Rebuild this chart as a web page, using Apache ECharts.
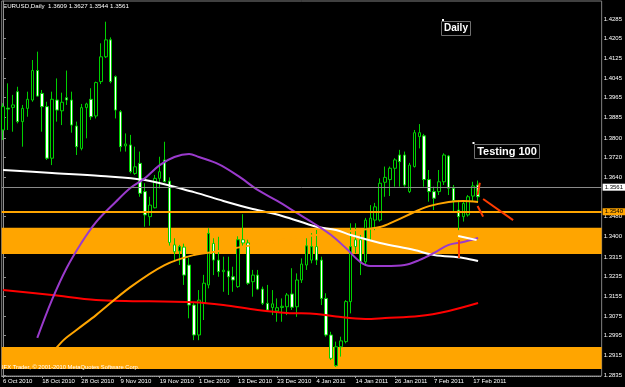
<!DOCTYPE html>
<html><head><meta charset="utf-8">
<script src="https://cdn.jsdelivr.net/npm/echarts@6/dist/echarts.min.js"></script>
<style>html,body{margin:0;padding:0;background:#000;}#c{width:625px;height:387px;}</style>
</head><body><div id="c"></div>
<script>
// ---- data ----
const dates = ['2010-10-06','2010-10-07','2010-10-08','2010-10-11','2010-10-12','2010-10-13','2010-10-14','2010-10-15','2010-10-18','2010-10-19','2010-10-20','2010-10-21','2010-10-22','2010-10-25','2010-10-26','2010-10-27','2010-10-28','2010-10-29','2010-11-01','2010-11-02','2010-11-03','2010-11-04','2010-11-05','2010-11-08','2010-11-09','2010-11-10','2010-11-11','2010-11-12','2010-11-15','2010-11-16','2010-11-17','2010-11-18','2010-11-19','2010-11-22','2010-11-23','2010-11-24','2010-11-25','2010-11-26','2010-11-29','2010-11-30','2010-12-01','2010-12-02','2010-12-03','2010-12-06','2010-12-07','2010-12-08','2010-12-09','2010-12-10','2010-12-13','2010-12-14','2010-12-15','2010-12-16','2010-12-17','2010-12-20','2010-12-21','2010-12-22','2010-12-23','2010-12-24','2010-12-27','2010-12-28','2010-12-29','2010-12-30','2010-12-31','2011-01-03','2011-01-04','2011-01-05','2011-01-06','2011-01-07','2011-01-10','2011-01-11','2011-01-12','2011-01-13','2011-01-14','2011-01-17','2011-01-18','2011-01-19','2011-01-20','2011-01-21','2011-01-24','2011-01-25','2011-01-26','2011-01-27','2011-01-28','2011-01-31','2011-02-01','2011-02-02','2011-02-03','2011-02-04','2011-02-07','2011-02-08','2011-02-09','2011-02-10','2011-02-11','2011-02-14','2011-02-15','2011-02-16','2011-02-17','2011-02-18'];
const open  = [1.3833,1.3922,1.3925,1.3989,1.3867,1.3921,1.3955,1.4075,1.3982,1.3928,1.3718,1.3955,1.3911,1.3964,1.3955,1.3849,1.3758,1.3924,1.3958,1.3890,1.4030,1.4131,1.4200,1.4050,1.3907,1.3768,1.3772,1.3656,1.3697,1.3582,1.3480,1.3516,1.3636,1.3711,1.3625,1.3365,1.3340,1.3356,1.3283,1.3120,1.2998,1.3127,1.3202,1.3371,1.3303,1.3256,1.3259,1.3235,1.3195,1.3386,1.3373,1.3215,1.3242,1.3185,1.3127,1.3110,1.3096,1.3110,1.3113,1.3165,1.3113,1.3222,1.3283,1.3303,1.3358,1.3303,1.3147,1.2998,1.2873,1.2950,1.2971,1.3134,1.3386,1.3386,1.3296,1.3433,1.3466,1.3466,1.3620,1.3631,1.3677,1.3731,1.3731,1.3582,1.3684,1.3806,1.3809,1.3631,1.3582,1.3582,1.3622,1.3727,1.3596,1.3507,1.3480,1.3487,1.3564,1.3609];
const high  = [1.3942,1.4023,1.3976,1.4009,1.3935,1.3989,1.4118,1.4152,1.3996,1.3948,1.3989,1.4043,1.3985,1.4075,1.3989,1.3867,1.3939,1.3944,1.4003,1.4030,1.4186,1.4274,1.4210,1.4055,1.3914,1.3819,1.3813,1.3765,1.3745,1.3616,1.3561,1.3650,1.3724,1.3785,1.3640,1.3392,1.3365,1.3370,1.3312,1.3130,1.3181,1.3243,1.3433,1.3392,1.3398,1.3317,1.3317,1.3276,1.3400,1.3490,1.3386,1.3263,1.3263,1.3195,1.3202,1.3181,1.3147,1.3147,1.3169,1.3270,1.3249,1.3310,1.3392,1.3413,1.3426,1.3317,1.3168,1.3011,1.2971,1.2991,1.3140,1.3453,1.3453,1.3405,1.3475,1.3527,1.3536,1.3636,1.3684,1.3684,1.3718,1.3752,1.3745,1.3699,1.3833,1.3857,1.3817,1.3670,1.3602,1.3670,1.3738,1.3731,1.3609,1.3548,1.3541,1.3568,1.3622,1.3627];
const low   = [1.3792,1.3833,1.3826,1.3860,1.3765,1.3887,1.3948,1.3969,1.3826,1.3711,1.3690,1.3867,1.3853,1.3935,1.3822,1.3731,1.3750,1.3799,1.3874,1.3880,1.4020,1.4126,1.4023,1.3880,1.3745,1.3745,1.3656,1.3650,1.3561,1.3439,1.3443,1.3514,1.3595,1.3620,1.3362,1.3296,1.3283,1.3202,1.3066,1.2977,1.2977,1.3059,1.3188,1.3242,1.3235,1.3174,1.3161,1.3174,1.3190,1.3362,1.3202,1.3154,1.3181,1.3120,1.3093,1.3079,1.3052,1.3052,1.3079,1.3100,1.3072,1.3210,1.3263,1.3290,1.3283,1.3120,1.2991,1.2896,1.2868,1.2910,1.2964,1.3086,1.3331,1.3242,1.3283,1.3385,1.3425,1.3460,1.3561,1.3564,1.3602,1.3602,1.3602,1.3576,1.3680,1.3758,1.3602,1.3541,1.3507,1.3568,1.3609,1.3568,1.3500,1.3425,1.3460,1.3480,1.3541,1.3544];
const close = [1.3928,1.3918,1.3935,1.3867,1.3921,1.3958,1.4075,1.3971,1.3928,1.3718,1.3958,1.3914,1.3946,1.3955,1.3853,1.3765,1.3924,1.3939,1.3887,1.4026,1.4131,1.4200,1.4030,1.3914,1.3765,1.3776,1.3663,1.3683,1.3575,1.3487,1.3527,1.3636,1.3663,1.3622,1.3375,1.3337,1.3358,1.3242,1.3120,1.2998,1.3140,1.3209,1.3412,1.3303,1.3256,1.3262,1.3235,1.3222,1.3386,1.3373,1.3209,1.3242,1.3185,1.3127,1.3100,1.3125,1.3109,1.3115,1.3161,1.3111,1.3222,1.3287,1.3361,1.3358,1.3303,1.3147,1.2998,1.2903,1.2950,1.2974,1.3134,1.3358,1.3358,1.3296,1.3466,1.3474,1.3520,1.3616,1.3640,1.3677,1.3711,1.3704,1.3609,1.3690,1.3822,1.3822,1.3631,1.3582,1.3555,1.3622,1.3731,1.3596,1.3545,1.3480,1.3534,1.3561,1.3605,1.3561];

// moving averages: [bar index, price]
const maWhite  = [[0,1.3670],[10,1.3658],[20,1.3646],[29,1.3629],[39,1.3580],[45,1.3544],[51,1.3511],[57,1.3483],[64,1.3439],[68,1.3426],[71,1.3405],[77,1.3373],[84,1.3344],[88,1.3324],[94,1.3312],[97,1.3299]];
const maPurple = [[7,1.2986],[10,1.3141],[13,1.3271],[16,1.3373],[19,1.3458],[23,1.3540],[26,1.3597],[29,1.3637],[32,1.3690],[35,1.3723],[38,1.3735],[40,1.3723],[44,1.3694],[48,1.3646],[52,1.3589],[56,1.3544],[60,1.3495],[64,1.3446],[67,1.3405],[70,1.3352],[73,1.3295],[75,1.3279],[78,1.3279],[82,1.3283],[85,1.3303],[88,1.3332],[91,1.3365],[94,1.3377],[97,1.3393]];
const maOrange = [[8,1.2872],[12,1.2970],[15,1.3018],[19,1.3079],[26,1.3193],[33,1.3283],[39,1.3324],[43,1.3336],[50,1.3361],[57,1.3385],[64,1.3405],[71,1.3422],[77,1.3438],[80,1.3462],[84,1.3499],[87,1.3523],[91,1.3540],[94,1.3544],[97,1.3540]];
const maRed    = [[0,1.3181],[10,1.3161],[19,1.3141],[39,1.3131],[45,1.3120],[52,1.3100],[58,1.3088],[64,1.3084],[68,1.3073],[74,1.3063],[78,1.3067],[85,1.3075],[91,1.3096],[97,1.3128]];

// zones and levels
const zoneUpper = [1.3435, 1.3328];
const zoneLower = [1.2949, 1.2860];
const levelLine = 1.3540;
const bidLine = 1.3561;
const levelTag = 1.3422;

// drawn annotations: pairs of [bar index, price]
const redLines = [
  [[97.37,1.3618],[96.90,1.3568]],
  [[96.90,1.3523],[98.04,1.3480]],
  [[98.04,1.3552],[104.16,1.3466]],
  [[93.03,1.3385],[93.03,1.3312]]
];
const whiteSeg = [[92.95,1.3401],[96.70,1.3385]];

// axes
const priceTicks = [1.4285,1.4205,1.4125,1.4045,1.3965,1.3885,1.3800,1.3720,1.3640,1.3480,1.3400,1.3315,1.3235,1.3155,1.3075,1.2995,1.2915,1.2835];
const dateTickIdx = [0,8,16,24,32,40,48,56,64,72,80,88,96];
const dateTickLabels = ['6 Oct 2010','18 Oct 2010','28 Oct 2010','9 Nov 2010','19 Nov 2010','1 Dec 2010','13 Dec 2010','23 Dec 2010','4 Jan 2011','14 Jan 2011','26 Jan 2011','7 Feb 2011','17 Feb 2011'];

const last = dates.length - 1;
const titleText = 'EURUSD,Daily  ' + [open[last], high[last], low[last], close[last]].map(v => v.toFixed(4)).join(' ');

const FONT = 'Liberation Sans';
const ORANGE = '#ffa500';
const chart = echarts.init(document.getElementById('c'), null, {renderer: 'canvas'});

const lineSeries = (name, data, color, z) => ({
  name, type: 'line', data, smooth: 0.35, symbol: 'none', z,
  lineStyle: {color, width: 2}, silent: true, animation: false
});

chart.setOption({
  backgroundColor: '#000000',
  animation: false,
  grid: {left: 1, right: 23, top: 1, bottom: 11, show: true, borderColor: '#808080', borderWidth: 1, backgroundColor: 'transparent'},
  xAxis: {
    type: 'value', min: -0.265, max: 122.24,
    axisLine: {show: true, onZero: false, lineStyle: {color: '#a0a0a0', type: 'dotted'}},
    axisTick: {show: true, customValues: dateTickIdx, length: 2, lineStyle: {color: '#a0a0a0'}},
    axisLabel: {customValues: dateTickIdx, formatter: v => dateTickLabels[dateTickIdx.indexOf(Math.round(v))] || '',
      color: '#ffffff', fontSize: 6, fontFamily: FONT, align: 'left', margin: 2},
    splitLine: {show: false}
  },
  yAxis: {
    type: 'value', position: 'right', min: 1.28310, max: 1.43583,
    axisLine: {show: true, lineStyle: {color: '#909090'}},
    axisTick: {show: true, customValues: priceTicks, length: 3, lineStyle: {color: '#909090'}},
    axisLabel: {customValues: priceTicks, formatter: v => v.toFixed(4), color: '#ffffff', fontSize: 6, fontFamily: FONT, margin: 2},
    splitLine: {show: false}
  },
  series: [
    {
      type: 'line', data: [], z: 0, silent: true,
      markArea: {silent: true, itemStyle: {color: ORANGE}, data: [
        [{yAxis: zoneUpper[0]}, {yAxis: zoneUpper[1]}],
        [{yAxis: zoneLower[0]}, {yAxis: zoneLower[1]}]
      ]}
    },
    {
      type: 'candlestick', z: 3, barWidth: 3, silent: true,
      data: dates.map((d, i) => [i, open[i], close[i], low[i], high[i]]),
      itemStyle: {color: '#000000', color0: '#ffffff', borderColor: '#00d000', borderColor0: '#00d000', borderWidth: 1}
    },
    lineSeries('red', maRed, '#ff0000', 4),
    lineSeries('orange', maOrange, ORANGE, 4),
    lineSeries('white', maWhite, '#ffffff', 4),
    lineSeries('purple', maPurple, '#9a3acc', 4),
    {
      type: 'line', data: [], z: 6, silent: true,
      markLine: {silent: true, symbol: 'none', animation: false, data: [
        {yAxis: bidLine, lineStyle: {color: '#8a8a8a', width: 1, type: 'solid'},
          label: {show: true, position: 'end', distance: 1, formatter: bidLine.toFixed(4), backgroundColor: '#ffffff', color: '#000', fontSize: 6, fontFamily: FONT, padding: [1, 2, 0, 2]}},
        {yAxis: levelLine, lineStyle: {color: ORANGE, width: 2, type: 'solid'},
          label: {show: true, position: 'end', distance: 1, formatter: levelLine.toFixed(4), backgroundColor: ORANGE, color: '#000', fontSize: 6, fontFamily: FONT, padding: [1, 2, 0, 2]}},
        {yAxis: levelTag, lineStyle: {color: ORANGE, width: 1, opacity: 0},
          label: {show: true, position: 'end', distance: 1, formatter: levelTag.toFixed(4), backgroundColor: ORANGE, color: '#000', fontSize: 6, fontFamily: FONT, padding: [1, 2, 0, 2]}},
        ...redLines.map(seg => [
          {coord: seg[0], lineStyle: {color: '#ff3c00', width: 2, type: 'solid'}, label: {show: false}},
          {coord: seg[1]}
        ]),
        [{coord: whiteSeg[0], lineStyle: {color: '#ffffff', width: 2, type: 'solid'}, label: {show: false}}, {coord: whiteSeg[1]}]
      ]}
    }
  ],
  graphic: [
    {type: 'text', left: 3, top: 3, style: {text: titleText, fill: '#ffffff', font: '6.2px ' + FONT}},
    {type: 'text', left: 2, top: 364, z: 10, style: {text: 'IFX Trader, © 2001-2010 MetaQuotes Software Corp.', fill: '#ffffff', font: '5.8px ' + FONT}},
    {type: 'rect', shape: {x: 441.5, y: 21.5, width: 29, height: 14}, style: {fill: '#000', stroke: '#707070', lineWidth: 1}, z: 10},
    {type: 'text', x: 456, y: 28.5, z: 11, style: {text: 'Daily', fill: '#ffffff', font: 'bold 10px ' + FONT, align: 'center', verticalAlign: 'middle'}},
    {type: 'rect', shape: {x: 442, y: 19, width: 2, height: 2}, style: {fill: '#ffffff'}, z: 12},
    {type: 'rect', shape: {x: 474.5, y: 144.5, width: 65, height: 14}, style: {fill: '#000', stroke: '#707070', lineWidth: 1}, z: 10},
    {type: 'text', x: 507, y: 152, z: 11, style: {text: 'Testing 100', fill: '#ffffff', font: 'bold 11px ' + FONT, align: 'center', verticalAlign: 'middle'}},
    {type: 'rect', shape: {x: 472.5, y: 142, width: 2, height: 2}, style: {fill: '#ffffff'}, z: 12}
  ]
});
</script></body></html>
